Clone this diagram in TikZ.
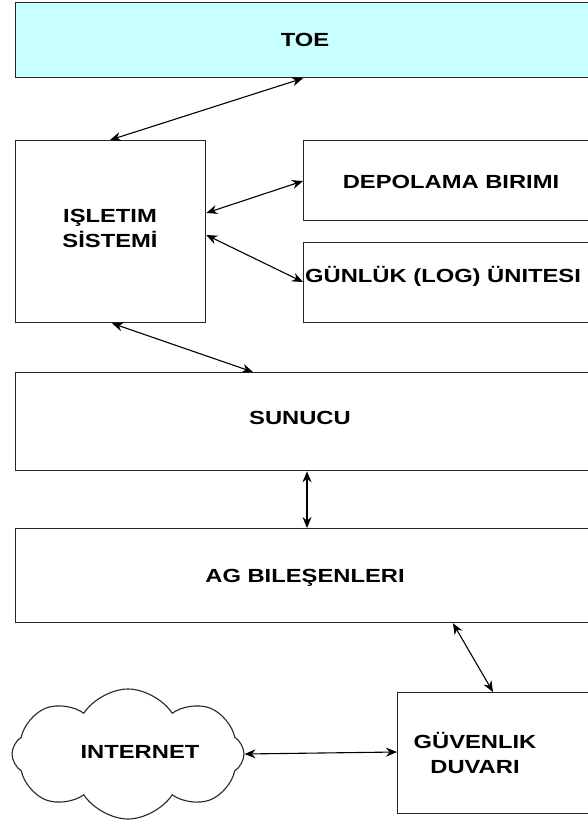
\documentclass[tikz,border=0pt]{standalone}
\usepackage{fontspec}
\setmainfont{Liberation Sans}[FakeStretch=1.25]
\usetikzlibrary{shapes.symbols,arrows.meta}
\begin{document}
\begin{tikzpicture}[x=1pt,y=1pt,
  box/.style={draw=black!85, line width=1.3pt, rectangle, inner sep=0pt, anchor=north west},
  lbl/.style={font=\fontsize{19}{25}\selectfont\bfseries, align=center, inner sep=0pt},
  link/.style={line width=1.1pt, {Stealth[length=11pt,width=9pt]}-{Stealth[length=11pt,width=9pt]}}
]
\useasboundingbox (0,0) rectangle (588,-829);
\fill[white] (0,0) rectangle (588,-829);
\begin{scope}
\clip (0,0) rectangle (588,-829);
% boxes
\node[box, fill={rgb,255:red,200;green,255;blue,255}, minimum width=590, minimum height=75] (toe) at (15,-2) {};
\node[box, minimum width=190, minimum height=182] (os) at (15,-140) {};
\node[box, minimum width=300, minimum height=80] (depo) at (303,-140) {};
\node[box, minimum width=300, minimum height=80] (log) at (303,-242) {};
\node[box, minimum width=590, minimum height=98] (sun) at (15,-372) {};
\node[box, minimum width=590, minimum height=94] (ag) at (15,-528) {};
\node[box, minimum width=210, minimum height=121] (fw) at (397,-692) {};
\node[cloud, draw=black!85, line width=1.1pt, cloud puffs=8, cloud puff arc=115, aspect=1.9,
      minimum width=232, minimum height=130, inner sep=0pt] (net) at (128,-754) {};
% labels
\node[lbl] (toeT) at (305,-40) {TOE};
\node[lbl] (osT) at (110,-228) {IŞLETIM\\SİSTEMİ};
\node[lbl] (depoT) at (451,-182) {DEPOLAMA BIRIMI};
\node[lbl, anchor=west] (logT) at (305,-276) {GÜNLÜK (LOG) ÜNITESI};
\node[lbl] (sunT) at (300,-418) {SUNUCU};
\node[lbl] (agT) at (305,-578) {AG BILEŞENLERI};
\node[lbl] (fwT) at (475,-753) {GÜVENLIK\\DUVARI};
\node[lbl] (netT) at (140,-752) {INTERNET};
% connectors
\draw[link] ([xshift=95pt]os.north west) -- ([xshift=288pt]toe.south west);
\draw[link] ([yshift=-73pt]os.north east) -- ([yshift=-41pt]depo.north west);
\draw[link] ([yshift=-95pt]os.north east) -- ([yshift=-40pt]log.north west);
\draw[link] ([xshift=97pt]os.south west) -- ([xshift=238pt]sun.north west);
\draw[link] ([xshift=292pt]sun.south west) -- ([xshift=292pt]ag.north west);
\draw[link] ([xshift=438pt]ag.south west) -- ([xshift=96pt]fw.north west);
\draw[link] (net.east) -- ([yshift=-60pt]fw.north west);
\end{scope}
\end{tikzpicture}
\end{document}
